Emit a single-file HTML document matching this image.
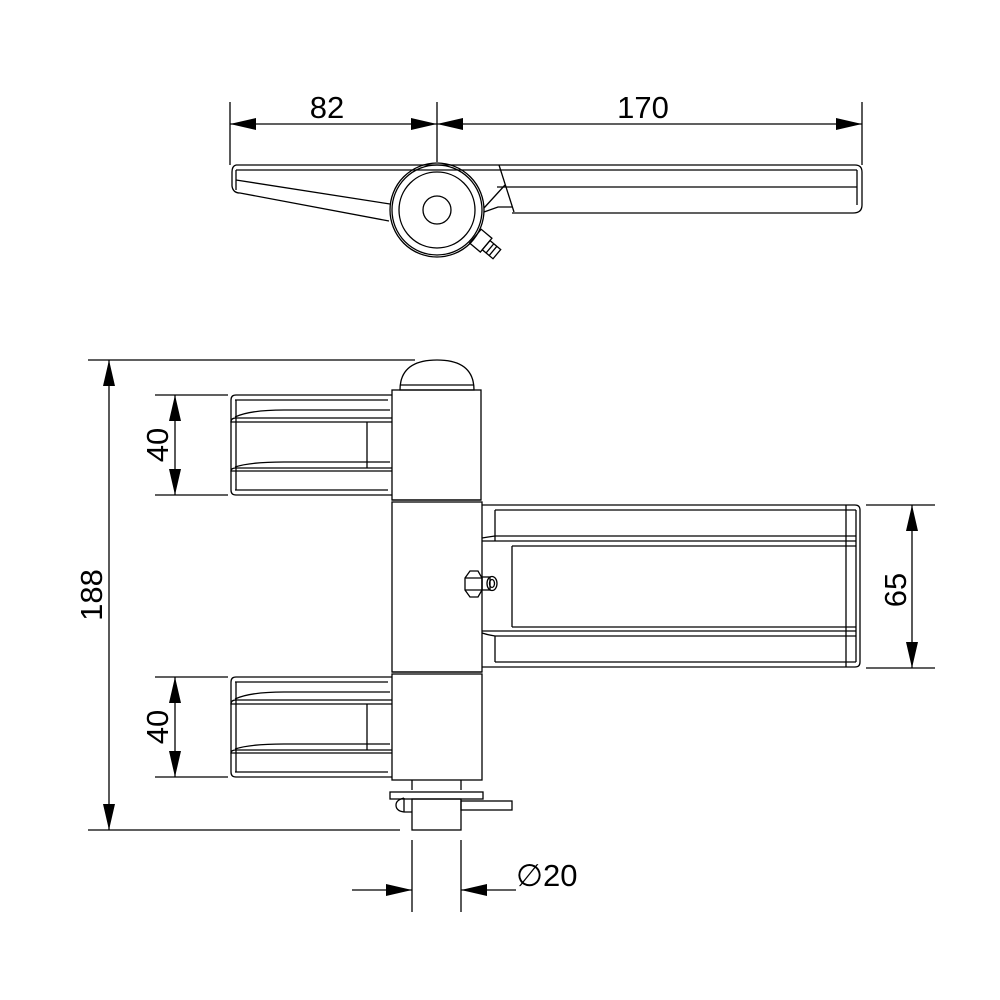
<!DOCTYPE html>
<html><head><style>html,body{margin:0;padding:0;background:#fff}svg{display:block}text{font-family:"Liberation Sans",Arial,sans-serif;font-size:31px;fill:#000}</style></head>
<body>
<svg width="1000" height="1000" viewBox="0 0 1000 1000" xmlns="http://www.w3.org/2000/svg">
<defs>
<marker id="a" markerWidth="26" markerHeight="12" refX="26" refY="6" orient="auto-start-reverse" markerUnits="userSpaceOnUse"><path d="M0,0 L26,6 L0,12 Z" fill="#000"/></marker>
</defs>
<g stroke="#000" stroke-width="1.3" fill="none">
<line x1="230" y1="102" x2="230" y2="165"/>
<line x1="437" y1="102" x2="437" y2="162"/>
<line x1="862" y1="102" x2="862" y2="165"/>
<line x1="230" y1="124" x2="437" y2="124" marker-start="url(#a)" marker-end="url(#a)"/>
<line x1="437" y1="124" x2="862" y2="124" marker-start="url(#a)" marker-end="url(#a)"/>
<path d="M236,165 L855,165 Q862,165 862,172 L862,205 Q862,213 853,213 L512,213"/>
<line x1="236" y1="170" x2="857" y2="170"/>
<line x1="497" y1="187" x2="857" y2="187"/>
<line x1="857" y1="170" x2="857" y2="205"/>
<line x1="499" y1="165" x2="514" y2="212"/>
<line x1="505" y1="185" x2="484" y2="208"/>
<path d="M484,212 L498,207 L512,207"/>
<path d="M236,165 Q232,166 232,172 L232,186 Q233,193 240,193 L389,221"/>
<line x1="236" y1="180" x2="390" y2="204"/>
<line x1="236" y1="170" x2="236" y2="190"/>
<circle cx="437" cy="210" r="47"/>
<circle cx="437" cy="210" r="45"/>
<circle cx="437" cy="210" r="38"/>
<circle cx="437" cy="210" r="14"/>
<g transform="translate(480,240) rotate(40)">
<rect x="-6" y="-9" width="14" height="18"/><rect x="8" y="-6" width="14" height="12"/>
<line x1="13" y1="-6" x2="13" y2="6"/><line x1="17" y1="-6" x2="17" y2="6"/>
</g>
<line x1="88" y1="360" x2="415" y2="360"/>
<line x1="88" y1="830" x2="400" y2="830"/>
<line x1="109" y1="360" x2="109" y2="830" marker-start="url(#a)" marker-end="url(#a)"/>
<line x1="155" y1="395" x2="228" y2="395"/><line x1="155" y1="495" x2="228" y2="495"/>
<line x1="175" y1="395" x2="175" y2="495" marker-start="url(#a)" marker-end="url(#a)"/>
<line x1="155" y1="677" x2="228" y2="677"/><line x1="155" y1="777" x2="228" y2="777"/>
<line x1="175" y1="677" x2="175" y2="777" marker-start="url(#a)" marker-end="url(#a)"/>
<line x1="866" y1="505" x2="935" y2="505"/><line x1="866" y1="668" x2="935" y2="668"/>
<line x1="912" y1="505" x2="912" y2="668" marker-start="url(#a)" marker-end="url(#a)"/>
<line x1="412" y1="840" x2="412" y2="912"/><line x1="461" y1="840" x2="461" y2="912"/>
<line x1="352" y1="890" x2="412" y2="890" marker-end="url(#a)"/>
<line x1="516" y1="890" x2="461" y2="890" marker-end="url(#a)"/>
<path d="M400,390 Q400,360 437,360 Q474,360 474,390 Z"/>
<line x1="400" y1="385" x2="474" y2="385"/>
<rect x="392" y="390" width="89" height="110"/>
<rect x="392" y="502" width="90" height="170"/>
<rect x="392" y="674" width="90" height="106"/>
<line x1="392" y1="500" x2="481" y2="500"/>
<line x1="392" y1="672" x2="482" y2="672"/>
<line x1="412" y1="780" x2="412" y2="790"/><line x1="461" y1="780" x2="461" y2="790"/>
<rect x="390" y="792" width="93" height="7"/>
<rect x="412" y="799" width="49" height="31"/>
<rect x="461" y="801" width="51" height="9"/>
<path d="M404,798 Q396,800 396,805 Q396,811 404,812 L412,812"/><line x1="404" y1="798" x2="404" y2="812"/>
<g id="lw">
<path d="M392,395 L236,395 Q231,395 231,400 L231,490 Q231,495 236,495 L392,495"/>
<line x1="235" y1="400" x2="388" y2="400"/>
<path d="M392,418 L236,418 Q231,418 231,422 L392,422"/>
<path d="M235,417 Q250,410 284,410 L390,410"/>
<path d="M392,468 L236,468 Q231,468 231,471 L392,471"/>
<path d="M235,467 Q250,462 284,462 L390,462"/>
<line x1="235" y1="490" x2="388" y2="490"/>
<line x1="367" y1="422" x2="367" y2="468"/>
<line x1="236" y1="400" x2="236" y2="490"/>
</g>
<use href="#lw" transform="translate(0,282)"/>
<path d="M482,505 L855,505 Q860,505 860,510 L860,662 Q860,667 855,667 L482,667"/>
<line x1="495" y1="510" x2="856" y2="510"/>
<path d="M482,538 Q488,537 495,536 L856,536"/>
<line x1="482" y1="541" x2="856" y2="541"/>
<line x1="512" y1="546" x2="856" y2="546"/>
<line x1="512" y1="627" x2="856" y2="627"/>
<line x1="482" y1="631" x2="856" y2="631"/>
<path d="M482,633 Q488,635 495,636 L856,636"/>
<line x1="495" y1="662" x2="856" y2="662"/>
<line x1="495" y1="510" x2="495" y2="541"/><line x1="495" y1="636" x2="495" y2="662"/>
<line x1="512" y1="546" x2="512" y2="627"/>
<line x1="846" y1="505" x2="846" y2="667"/>
<line x1="856" y1="510" x2="856" y2="662"/>
<path d="M465,578 L470,571 L478,571 L482,578 L482,590 L478,597 L470,597 L465,590 Z"/>
<line x1="465" y1="578" x2="482" y2="578"/><line x1="465" y1="590" x2="482" y2="590"/>
<rect x="482" y="577" width="8" height="13"/>
<ellipse cx="492" cy="583.5" rx="5" ry="7"/>
<ellipse cx="492" cy="583.5" rx="2.5" ry="4"/>
</g>
<text x="327" y="118" text-anchor="middle">82</text>
<text x="643" y="118" text-anchor="middle">170</text>
<text transform="translate(102,595) rotate(-90)" text-anchor="middle">188</text>
<text transform="translate(168,445) rotate(-90)" text-anchor="middle">40</text>
<text transform="translate(168,727) rotate(-90)" text-anchor="middle">40</text>
<text transform="translate(906,590) rotate(-90)" text-anchor="middle">65</text>
<text x="516" y="886">∅20</text>
</svg>
</body></html>
